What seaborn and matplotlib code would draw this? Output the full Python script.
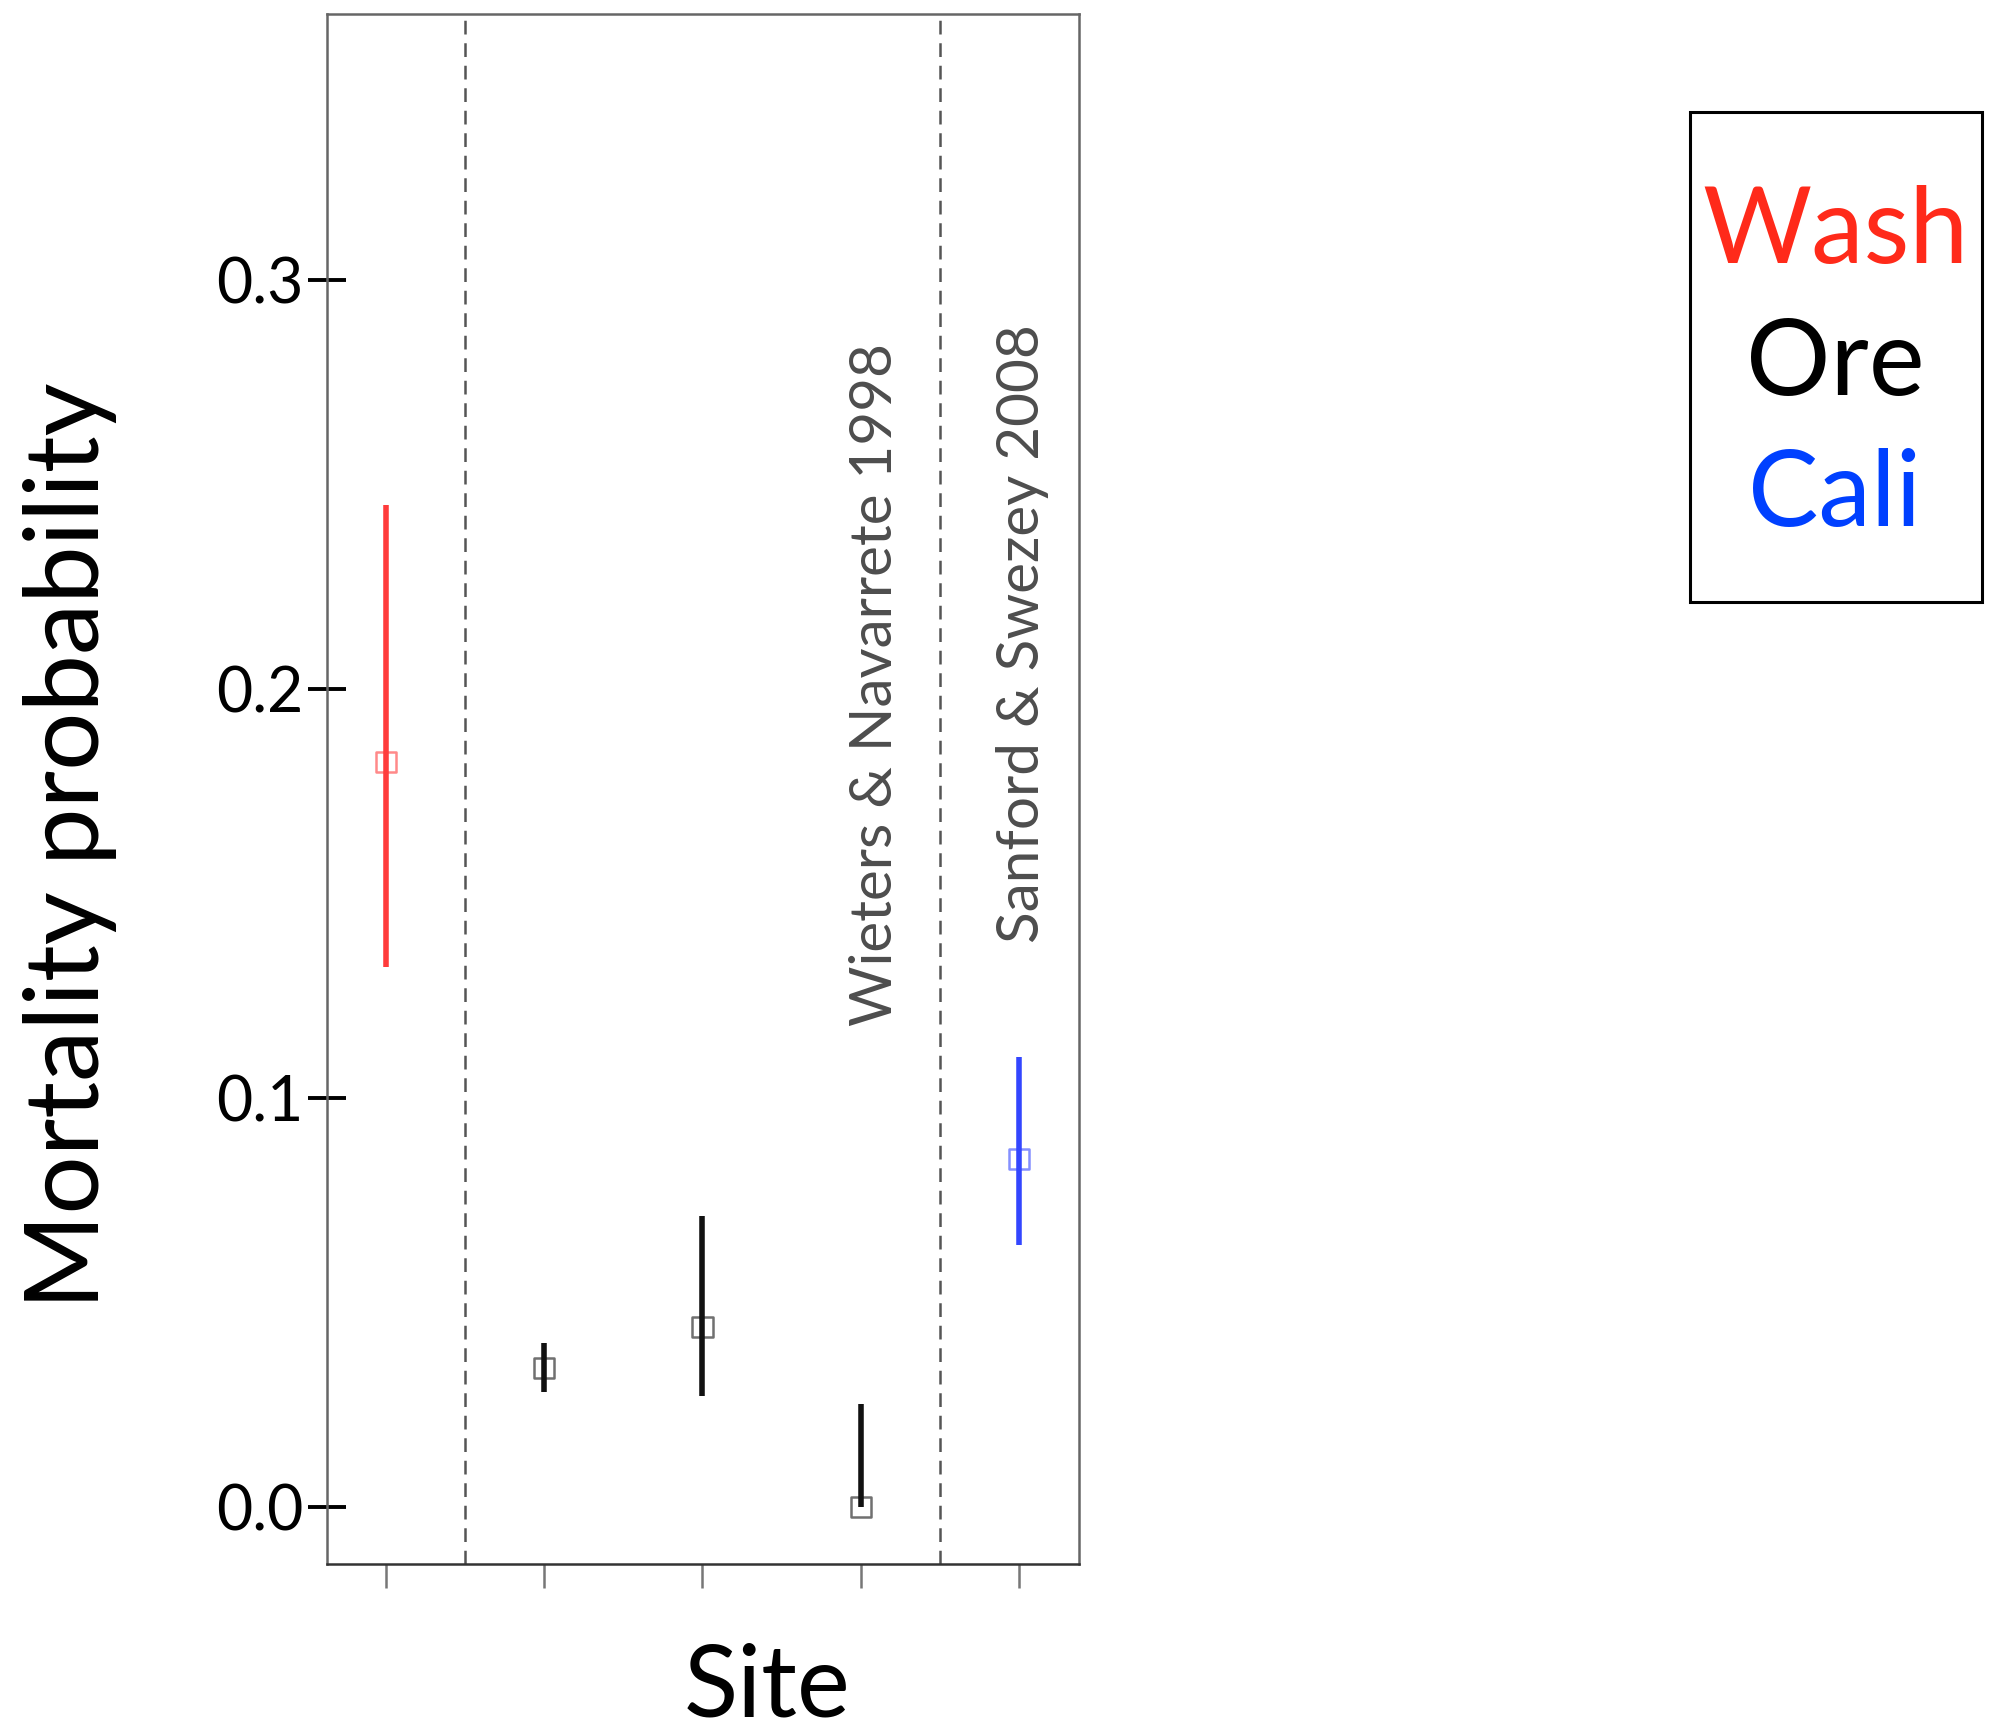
import matplotlib
matplotlib.use("Agg")
import matplotlib.pyplot as plt
from matplotlib.patches import Rectangle
import seaborn as sns
import pandas as pd

# Mortality estimates per site with interval bounds
site_pos = [0, 1, 2, 3, 4]
region = ["Wash", "Ore", "Ore", "Ore", "Cali"]
mortality = [0.182, 0.034, 0.044, 0.0, 0.085]
ci_low = [0.132, 0.028, 0.027, 0.0, 0.064]
ci_high = [0.245, 0.040, 0.071, 0.025, 0.110]

region_names = ["Wash", "Ore", "Cali"]
region_colors = ["#ff2a1a", "#000000", "#0040ff"]
bar_colors = {"Wash": "#ff3b3b", "Ore": "#111111", "Cali": "#3346ff"}

yticks = [0.0, 0.1, 0.2, 0.3]
ytick_labels = ["0.0", "0.1", "0.2", "0.3"]

boundaries = [0.5, 3.5]
study_notes = ["Wieters & Navarrete 1998", "Sanford & Swezey 2008"]
note_x = [3.09, 4.02]
note_y = [0.1176, 0.1378]

sns.set_theme(style="white")
plt.rcParams["font.family"] = ["Lato", "DejaVu Sans"]

df = pd.DataFrame({"pos": site_pos, "region": region, "mortality": mortality,
                   "lo": ci_low, "hi": ci_high})

fig = plt.figure(figsize=(19.95, 17.32), dpi=100)
ax = fig.add_axes([0.1639, 0.097, 0.377, 0.895])

# interval lines
ax.vlines(df["pos"], df["lo"], df["hi"],
          colors=[bar_colors[r] for r in df["region"]], lw=4.0, zorder=2)

# hollow square markers for the estimates
sns.scatterplot(data=df, x="pos", y="mortality", hue="region",
                palette=bar_colors, marker="s", s=210, legend=False, ax=ax, zorder=3)
coll = ax.collections[-1]
fcs = coll.get_facecolors()
coll.set_facecolors("none")
coll.set_edgecolors(fcs)
coll.set_linewidths(1.8)
coll.set_alpha(0.6)

for b in boundaries:
    ax.axvline(b, color="#555555", lw=1.8, ls=(0, (5.5, 3.5)), zorder=1)

for txt, x, y in zip(study_notes, note_x, note_y):
    ax.text(x, y, txt, rotation=90, ha="center", va="bottom",
            fontsize=42, color="#4d4d4d")

ax.set_xlim(-0.37, 4.377)
ax.set_ylim(-0.014, 0.365)
ax.set_xticks(site_pos)
ax.set_xticklabels([])
ax.set_yticks(yticks)
ax.set_yticklabels(ytick_labels)
ax.set_xlabel("")
ax.set_ylabel("")

ax.tick_params(axis="y", direction="inout", length=28, width=2.8, color="black",
               labelsize=45, labelcolor="black", pad=3, left=True)
ax.tick_params(axis="x", direction="out", length=17, width=1.8, color="#777777",
               bottom=True)
for name, sp in ax.spines.items():
    sp.set_color("#666666")
    sp.set_linewidth(1.8)
ax.spines["bottom"].set_color("#333333")

fig.text(0.035, 0.5115, "Mortality probability", rotation=90, ha="center",
         va="center", fontsize=74, color="black")
fig.text(0.3845, 0.0254, "Site", ha="center", va="center", fontsize=72, color="black")

# region key
fig.patches.append(Rectangle((0.847, 0.6524), 0.1465, 0.2829, transform=fig.transFigure,
                             fill=False, edgecolor="black", lw=2.2))
for name, col, y in zip(region_names, region_colors, [0.8655, 0.7893, 0.7136]):
    fig.text(0.9198, y, name, ha="center", va="center", fontsize=76, color=col)

fig.savefig("out.png", dpi=100, facecolor="white")
